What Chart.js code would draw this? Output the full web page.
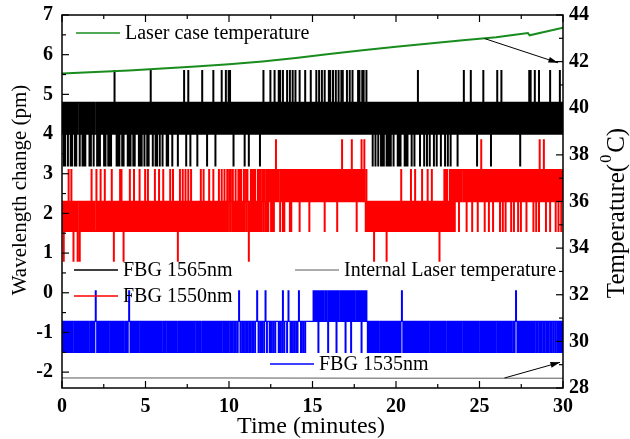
<!DOCTYPE html>
<html>
<head>
<meta charset="utf-8">
<script src="https://cdn.jsdelivr.net/npm/chart.js@4.4.1/dist/chart.umd.min.js"></script>
<style>
    html, body { margin: 0; padding: 0; background: #fff; }
</style>
</head>
<body>
<canvas id="chart-cont" width="630" height="439"></canvas>
<script>
// one sample every 2.5 s, each minute = two strings of 12 samples, digit = index into the level list
var sampleStep = 2.5 / 60;

var fbg1565Levels = [3.2, 4.0, 4.8, 5.6];
var fbg1565Minutes = [
    "120202120212", "020212020212", "202120202021", "212020212021", "120202021212", "020212020202",
    "121312020202", "120202121202", "020212020212", "120202021202", "120202131202", "120202120212",
    "021212020212", "120212121202", "121212131202", "131202121212", "120212121312", "121202121212",
    "131202121212", "131212131213", "131212021212", "121212121202", "121202121212", "121212120212",
    "131212121213", "121213121213", "131213121213", "121312131213", "121213121212", "131212121312",
    "121213121312", "131213121213", "131213121312", "131213131212", "131213121312", "121213131213",
    "131213121212", "120212021202", "120202021202", "020202120212", "120202021212", "020202121202",
    "120212131202", "121202120212", "021212021202", "121202121202", "120212021212", "121202121212",
    "131212121213", "121212120212", "121213121212", "121202121212", "131212131212", "121212121212",
    "121212121202", "121212121213", "131212131212", "131212121212", "121213121212", "121212131212",
    "2"
];

var fbg1550Levels = [0.8, 1.55, 2.3, 3.1, 3.85];
var fbg1550Minutes = [
    "120212121312", "131202121202", "202121212121", "212121312121", "131212131212", "131212121213",
    "120212121213", "131202121212", "131212131212", "121312121213", "121312121212", "131212131212",
    "131212121213", "121312121202", "131213121312", "131213121212", "121212131213", "121212131212",
    "131212121312", "131213121312", "313213121312", "131313121312", "313202131313", "131213131312",
    "313213131323", "131313242323", "313231313232", "323131323232", "323231323232", "323232313232",
    "323232323232", "323231323232", "323232323231", "323232423232", "323232324232", "323132323242",
    "324213121212", "121202121212", "121212121202", "121212121212", "121212131212", "121212121312",
    "121312121212", "131212121312", "121312121212", "120212121313", "131213131313", "132323132323",
    "323231323232", "313232323132", "324232313232", "313232313232", "323231323132", "313232323132",
    "313232313231", "323232313232", "323231323132", "314232324231", "323231323232", "313231323132",
    "3"
];

var fbg1535Levels = [-1.5, -0.72, 0.05];
var fbg1535Minutes = [
    "010101010101", "010110101010", "101010101010", "101001010101", "210101010101", "010101011010",
    "101010101010", "101010010101", "210101010101", "010110101010", "101010101010", "101010101010",
    "010101101010", "101010101001", "010101010101", "010101010101", "101010100101", "010101010101",
    "010101010101", "011010101010", "110101101011", "012101101011", "010110101101", "101121011010",
    "110121011101", "011011011110", "101102101110", "121101011011", "010121101101", "101111111111",
    "121212120212", "121211212102", "121212121202", "121121212120", "212121202121", "211212121202",
    "121212101010", "101010101010", "010101010101", "010101010101", "010101012101", "010101010101",
    "010101010101", "010101010101", "101010101010", "101010101010", "010101010101", "010101010101",
    "101010101010", "101010101010", "010101010101", "010101010101", "101010101010", "101010101010",
    "010121010101", "010101010101", "010101011010", "110101101011", "010110101101", "101101010101",
    "0"
];

var caseTime = [0, 2, 4, 6, 8, 10, 12, 14, 16, 18, 20, 22, 24, 26, 27, 27.9, 28.0, 29, 30];
var caseTemp = [41.49, 41.55, 41.62, 41.7, 41.79, 41.89, 42.01, 42.16, 42.33, 42.49, 42.64,
                42.78, 42.92, 43.05, 43.14, 43.23, 43.13, 43.29, 43.45];

var internalTime = [0, 10, 20, 30];
var internalTemp = [28.43, 28.43, 28.42, 28.42];

var xTicks = [0, 5, 10, 15, 20, 25, 30];
var xMinor = [2.5, 7.5, 12.5, 17.5, 22.5, 27.5];
var leftTicks = [-2, -1, 0, 1, 2, 3, 4, 5, 6, 7];
var leftMinor = [-1.5, -0.5, 0.5, 1.5, 2.5, 3.5, 4.5, 5.5, 6.5];
var rightTicks = [28, 30, 32, 34, 36, 38, 40, 42, 44];
var rightMinor = [29, 31, 33, 35, 37, 39, 41, 43];

var serif = "'Liberation Serif', 'DejaVu Serif', serif";

function decode(minutes, levels) {
    var s = minutes.join('');
    var pts = [];
    for (var i = 0; i < s.length; i++) pts.push({ x: i * sampleStep, y: levels[+s[i]] });
    return pts;
}

function pairs(xs, ys) {
    return xs.map(function (x, i) { return { x: x, y: ys[i] }; });
}

function tickList(arr) {
    return function (scale) { scale.ticks = arr.map(function (v) { return { value: v }; }); };
}

// fixed box sizes so the plot area lands where the original one is
function fitWidth(w) {
    return function (s) { s.width = w; s.paddingTop = 0; s.paddingBottom = 0; };
}

// inward ticks, frame, axis titles
var frameTicks = {
    id: 'frameTicks',
    afterDraw: function (chart) {
        var ctx = chart.ctx, a = chart.chartArea, s = chart.scales;
        ctx.save();
        ctx.strokeStyle = '#000';
        ctx.lineWidth = 1.2;
        function tick(x1, y1, x2, y2) { ctx.beginPath(); ctx.moveTo(x1, y1); ctx.lineTo(x2, y2); ctx.stroke(); }
        xTicks.forEach(function (v) {
            var p = s.x.getPixelForValue(v);
            tick(p, a.bottom, p, a.bottom - 7); tick(p, a.top, p, a.top + 7);
        });
        xMinor.forEach(function (v) {
            var p = s.x.getPixelForValue(v);
            tick(p, a.bottom, p, a.bottom - 4); tick(p, a.top, p, a.top + 4);
        });
        leftTicks.forEach(function (v) { var p = s.y.getPixelForValue(v); tick(a.left, p, a.left + 7, p); });
        leftMinor.forEach(function (v) { var p = s.y.getPixelForValue(v); tick(a.left, p, a.left + 4, p); });
        rightTicks.forEach(function (v) { var p = s.y2.getPixelForValue(v); tick(a.right, p, a.right - 7, p); });
        rightMinor.forEach(function (v) { var p = s.y2.getPixelForValue(v); tick(a.right, p, a.right - 4, p); });
        ctx.lineWidth = 1.5;
        ctx.strokeRect(a.left, a.top, a.right - a.left, a.bottom - a.top);

        ctx.fillStyle = '#000';
        ctx.textAlign = 'center';
        ctx.textBaseline = 'middle';
        ctx.font = '24px ' + serif;
        ctx.fillText('Time (minutes)', 311, 427);

        ctx.save();
        ctx.translate(20, 190);
        ctx.rotate(-Math.PI / 2);
        ctx.font = '21px ' + serif;
        ctx.fillText('Wavelength change (pm)', 0, 0);
        ctx.restore();

        // Temperature(^0C)
        ctx.save();
        ctx.translate(617, 213);
        ctx.rotate(-Math.PI / 2);
        ctx.font = '25px ' + serif;
        var t1 = 'Temperature(', t3 = 'C)';
        var w1 = ctx.measureText(t1).width, w3 = ctx.measureText(t3).width;
        ctx.font = '16px ' + serif;
        var w2 = ctx.measureText('0').width + 3;
        var x0 = -(w1 + w2 + w3) / 2;
        ctx.textAlign = 'left';
        ctx.font = '25px ' + serif;
        ctx.fillText(t1, x0, 0);
        ctx.fillText(t3, x0 + w1 + w2, 0);
        ctx.font = '16px ' + serif;
        ctx.fillText('0', x0 + w1 + 1, -10);
        ctx.restore();
        ctx.restore();
    }
};

// legend entries and the two arrows
var notes = {
    id: 'notes',
    afterDatasetsDraw: function (chart) {
        var ctx = chart.ctx, s = chart.scales, a = chart.chartArea;
        ctx.save();
        var items = [
            { ds: 0, x: 76, y: 33 },
            { ds: 4, x: 74, y: 270 },
            { ds: 1, x: 295, y: 270 },
            { ds: 3, x: 74, y: 296 },
            { ds: 2, x: 270, y: 364 }
        ];
        ctx.font = '20px ' + serif;
        ctx.textBaseline = 'middle';
        ctx.textAlign = 'left';
        items.forEach(function (it) {
            var d = chart.data.datasets[it.ds];
            ctx.strokeStyle = d.borderColor;
            ctx.lineWidth = Math.min(d.borderWidth, 1.6);
            ctx.beginPath(); ctx.moveTo(it.x, it.y); ctx.lineTo(it.x + 44, it.y); ctx.stroke();
            ctx.fillStyle = '#000';
            ctx.fillText(d.label, it.x + 49, it.y + 1);
        });

        function arrow(x1, y1, x2, y2) {
            ctx.strokeStyle = '#000'; ctx.fillStyle = '#000'; ctx.lineWidth = 1;
            ctx.beginPath(); ctx.moveTo(x1, y1); ctx.lineTo(x2, y2); ctx.stroke();
            var ang = Math.atan2(y2 - y1, x2 - x1);
            ctx.beginPath();
            ctx.moveTo(x2, y2);
            ctx.lineTo(x2 - 10 * Math.cos(ang - 0.3), y2 - 10 * Math.sin(ang - 0.3));
            ctx.lineTo(x2 - 10 * Math.cos(ang + 0.3), y2 - 10 * Math.sin(ang + 0.3));
            ctx.closePath(); ctx.fill();
        }
        arrow(s.x.getPixelForValue(25.3), s.y2.getPixelForValue(42.99), a.right - 5, s.y2.getPixelForValue(41.95));
        arrow(s.x.getPixelForValue(26.5), s.y2.getPixelForValue(28.43), a.right - 3, s.y2.getPixelForValue(29.1));
        ctx.restore();
    }
};

var tickFont = { family: serif, size: 20, weight: 'bold' };

var config = {
    type: 'line',
    data: {
        datasets: [{
            label: 'Laser case temperature',
            data: pairs(caseTime, caseTemp),
            borderColor: 'rgb(25,140,30)',
            borderWidth: 2,
            yAxisID: 'y2'
        }, {
            label: 'Internal Laser temperature',
            data: pairs(internalTime, internalTemp),
            borderColor: 'rgb(90,90,90)',
            borderWidth: 1,
            yAxisID: 'y2'
        }, {
            label: 'FBG 1535nm',
            data: decode(fbg1535Minutes, fbg1535Levels),
            borderColor: 'rgb(0,0,255)',
            borderWidth: 1.3,
            stepped: true,
            yAxisID: 'y'
        }, {
            label: 'FBG 1550nm',
            data: decode(fbg1550Minutes, fbg1550Levels),
            borderColor: 'rgb(255,0,0)',
            borderWidth: 1.3,
            stepped: true,
            yAxisID: 'y'
        }, {
            label: 'FBG 1565nm',
            data: decode(fbg1565Minutes, fbg1565Levels),
            borderColor: 'rgb(0,0,0)',
            borderWidth: 1.3,
            stepped: true,
            yAxisID: 'y'
        }]
    },
    plugins: [notes, frameTicks],
    options: {
        responsive: false,
        animation: false,
        layout: { padding: { top: 15, left: 0, right: 0, bottom: 0 } },
        elements: { point: { radius: 0 }, line: { tension: 0 } },
        plugins: { legend: { display: false }, tooltip: { enabled: false } },
        scales: {
            x: {
                type: 'linear', min: 0, max: 30,
                afterBuildTicks: tickList(xTicks),
                afterFit: function (s) { s.height = 51; s.paddingLeft = 0; s.paddingRight = 0; },
                grid: { display: false, drawTicks: false },
                border: { display: false },
                ticks: { font: tickFont, color: '#000', padding: 7, maxRotation: 0, autoSkip: false }
            },
            y: {
                type: 'linear', position: 'left', min: -2.4, max: 7,
                afterBuildTicks: tickList(leftTicks),
                afterFit: fitWidth(62),
                grid: { display: false, drawTicks: false },
                border: { display: false },
                ticks: { font: tickFont, color: '#000', padding: 9, autoSkip: false }
            },
            y2: {
                type: 'linear', position: 'right', min: 28, max: 44,
                afterBuildTicks: tickList(rightTicks),
                afterFit: fitWidth(67),
                grid: { display: false, drawTicks: false },
                border: { display: false },
                ticks: { font: tickFont, color: '#000', padding: 6, autoSkip: false }
            }
        }
    }
};

var chart = new Chart(document.getElementById('chart-cont').getContext('2d'), config);
</script>
</body>
</html>
